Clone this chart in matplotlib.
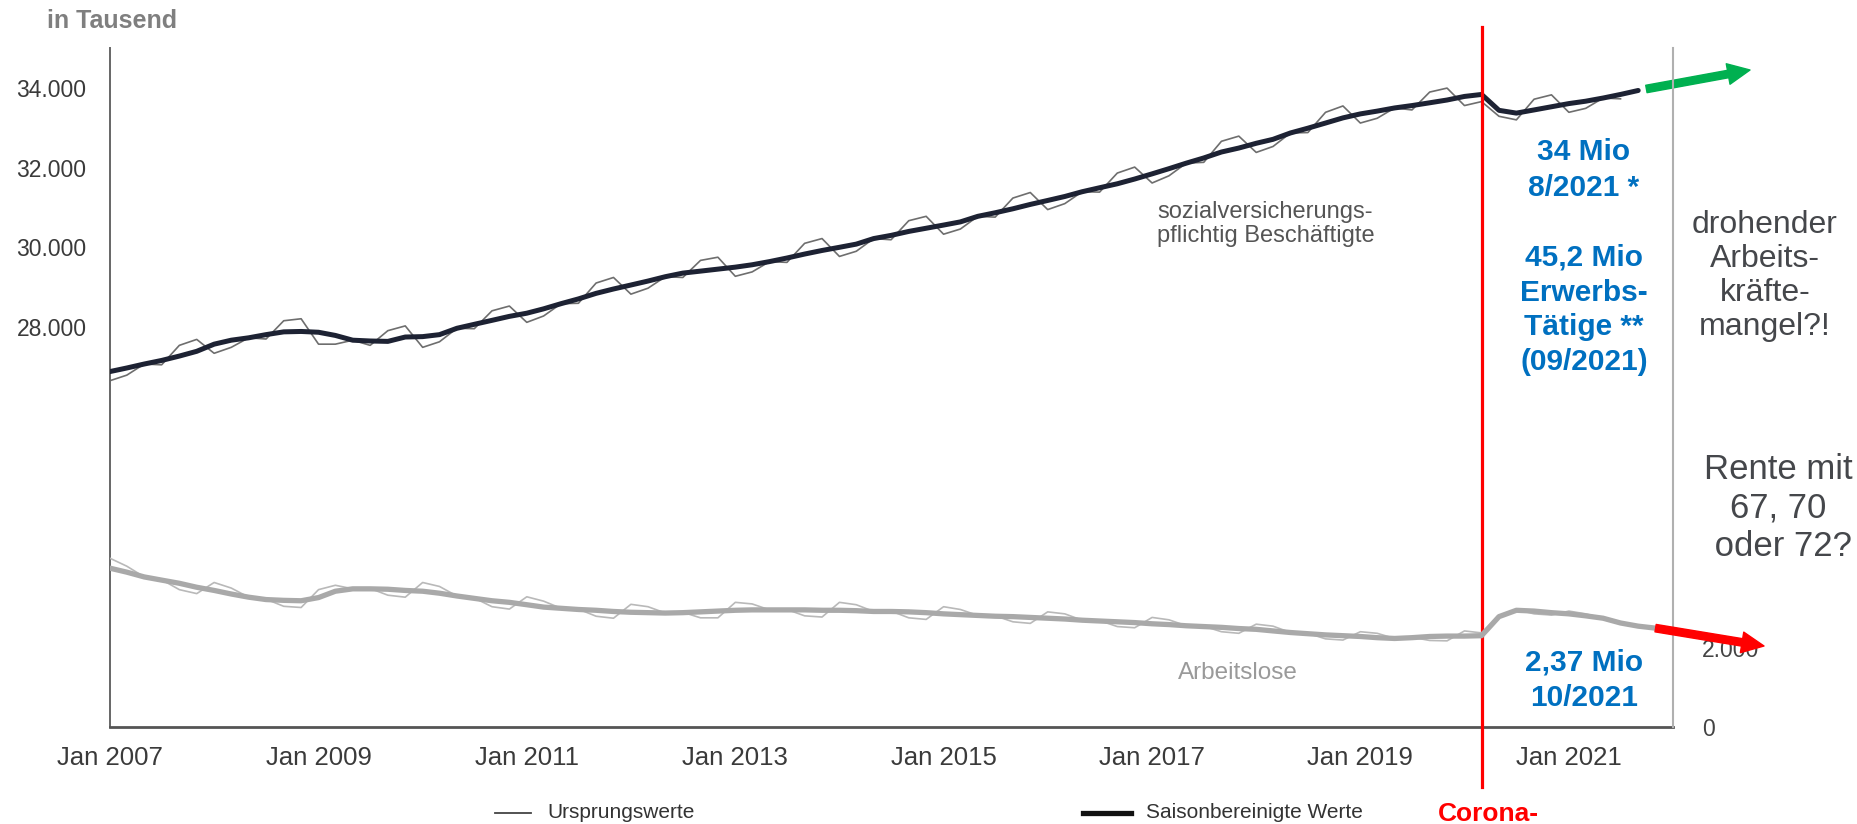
import numpy as np
import pandas as pd
import matplotlib
matplotlib.use('Agg')
import matplotlib.pyplot as plt
from matplotlib.lines import Line2D

plt.rcParams['font.family'] = ['Liberation Sans', 'DejaVu Sans']

# bimonthly readings (Jan, Mar, May, Jul, Sep, Nov), values in thousand
emp_dates = pd.date_range('2007-01-01', '2021-09-01', freq='2MS')
emp_sa = [26870, 26960, 27060, 27150, 27260, 27380,
          27560, 27660, 27720, 27800, 27870, 27880,
          27860, 27780, 27660, 27640, 27630, 27740,
          27750, 27800, 27960, 28060, 28160, 28260,
          28340, 28450, 28580, 28700, 28840, 28950,
          29050, 29150, 29260, 29350, 29400, 29450,
          29500, 29560, 29640, 29730, 29830, 29920,
          30000, 30080, 30220, 30300, 30400, 30480,
          30560, 30640, 30780, 30870, 30970, 31080,
          31180, 31280, 31400, 31500, 31600, 31720,
          31850, 31980, 32120, 32250, 32400, 32500,
          32620, 32720, 32880, 33000, 33130, 33260,
          33360, 33430, 33510, 33570, 33640, 33710,
          33800, 33850, 33450, 33380, 33460, 33540,
          33620, 33680, 33760, 33850, 33950]
emp_orig = [26640, 26780, 27060, 27040, 27530, 27680,
            27330, 27480, 27720, 27690, 28150, 28200,
            27560, 27560, 27660, 27530, 27900, 28020,
            27480, 27620, 27960, 27950, 28400, 28520,
            28110, 28270, 28580, 28590, 29100, 29240,
            28820, 28970, 29260, 29240, 29670, 29750,
            29270, 29380, 29640, 29620, 30100, 30220,
            29770, 29900, 30220, 30190, 30670, 30780,
            30330, 30460, 30780, 30760, 31240, 31380,
            30950, 31100, 31400, 31390, 31870, 32020,
            31620, 31800, 32120, 32140, 32670, 32800,
            32390, 32540, 32880, 32890, 33400, 33560,
            33130, 33250, 33510, 33460, 33910, 34010,
            33570, 33670, 33300, 33210, 33730, 33840,
            33400, 33500, 33760, 33740]

alo_dates = pd.date_range('2007-01-01', '2021-11-01', freq='2MS')
alo_sa = [4000, 3900, 3780, 3700, 3620, 3520,
          3440, 3350, 3270, 3210, 3190, 3180,
          3260, 3420, 3480, 3480, 3470, 3440,
          3420, 3370, 3300, 3240, 3180, 3140,
          3080, 3020, 2990, 2960, 2940, 2910,
          2890, 2880, 2870, 2880, 2900, 2920,
          2940, 2950, 2950, 2950, 2950, 2940,
          2940, 2930, 2910, 2910, 2900, 2880,
          2850, 2830, 2810, 2790, 2780, 2760,
          2740, 2720, 2690, 2670, 2650, 2630,
          2600, 2580, 2550, 2530, 2510, 2480,
          2460, 2420, 2380, 2350, 2320, 2300,
          2280, 2250, 2230, 2250, 2280, 2290,
          2290, 2300, 2780, 2940, 2920, 2880,
          2850, 2800, 2740, 2620, 2540, 2490]
alo_orig = [4250, 4050, 3780, 3710, 3460, 3360,
            3640, 3500, 3270, 3220, 3040, 3010,
            3460, 3570, 3480, 3490, 3320, 3270,
            3640, 3540, 3300, 3250, 3030, 2970,
            3280, 3170, 2990, 2970, 2790, 2740,
            3090, 3030, 2870, 2890, 2750, 2750,
            3140, 3100, 2950, 2960, 2800, 2770,
            3140, 3080, 2910, 2920, 2750, 2710,
            3030, 2960, 2810, 2800, 2650, 2610,
            2900, 2850, 2690, 2680, 2530, 2500,
            2760, 2700, 2550, 2540, 2400, 2360,
            2590, 2540, 2380, 2360, 2220, 2190,
            2400, 2360, 2230, 2260, 2180, 2170,
            2420, 2370, 2800, 2960, 2850, 2820,
            2920, 2850, 2740, 2630, 2520, 2470]

left_ticks = [28000, 30000, 32000, 34000]
left_labels = ['28.000', '30.000', '32.000', '34.000']
right_ticks = [0, 2000]
right_labels = ['0', '2.000']
year_ticks = list(range(2007, 2022, 2))
corona = pd.Timestamp('2020-03-01')

W, H = 1857, 824
def fx(x):
    return x / W
def fy(y):
    return 1 - y / H

fig = plt.figure(figsize=(W / 100, H / 100), dpi=100)
ax = fig.add_axes([fx(110), fy(727), 1563 / W, 679 / H])
ax2 = ax.twinx()

ax.plot(emp_dates[:len(emp_orig)], emp_orig, color='#6e6e6e', lw=1.2, zorder=2)
ax.plot(emp_dates, emp_sa, color='#1d2233', lw=3.6, zorder=3, solid_capstyle='round')
ax2.plot(alo_dates, alo_orig, color='#b9b9b9', lw=1.2, zorder=2)
ax2.plot(alo_dates, alo_sa, color='#a9a9a9', lw=3.8, zorder=3, solid_capstyle='round')

ax.set_xlim(pd.Timestamp('2007-01-01'), pd.Timestamp('2022-01-01'))
ax.set_ylim(17917, 35020)
ax2.set_ylim(0, 17103)

ax.set_xticks([pd.Timestamp(f'{y}-01-01') for y in year_ticks])
ax.set_xticklabels([f'Jan {y}' for y in year_ticks])
ax.set_yticks(left_ticks)
ax.set_yticklabels(left_labels)
ax2.set_yticks(right_ticks)
ax2.set_yticklabels(right_labels)

ax.tick_params(axis='x', length=0, pad=14, labelsize=18.5, labelcolor='#3a3a3a')
ax.tick_params(axis='y', length=0, pad=17, labelsize=16.5, labelcolor='#3a3a3a')
ax2.tick_params(axis='y', length=0, pad=21, labelsize=16.5, labelcolor='#444444')

for s in ['top', 'right']:
    ax.spines[s].set_visible(False)
for s in ['top', 'left', 'bottom']:
    ax2.spines[s].set_visible(False)
ax.spines['left'].set_color('#666666')
ax.spines['left'].set_linewidth(1.4)
ax.spines['bottom'].set_color('#555555')
ax.spines['bottom'].set_linewidth(2)
ax2.spines['right'].set_color('#b0b0b0')
ax2.spines['right'].set_linewidth(1.5)

# corona marker
ax.plot([corona, corona], [-0.088, 1.031], color='#ff0000', lw=2.3,
        transform=ax.get_xaxis_transform(), clip_on=False, zorder=5)

# arrows from the last values
ax.annotate('', xy=(fx(1750), fy(70)), xycoords='figure fraction',
            xytext=(emp_dates[-1], emp_sa[-1]), textcoords='data',
            arrowprops=dict(arrowstyle='simple,head_length=0.8,head_width=0.75,tail_width=0.27',
                            color='#00b050', mutation_scale=20, shrinkA=6, shrinkB=0),
            annotation_clip=False)
ax2.annotate('', xy=(fx(1764), fy(646)), xycoords='figure fraction',
             xytext=(alo_dates[-1], alo_sa[-1]), textcoords='data',
             arrowprops=dict(arrowstyle='simple,head_length=0.8,head_width=0.75,tail_width=0.27',
                             color='#ff0000', mutation_scale=20, shrinkA=0, shrinkB=0),
             annotation_clip=False)

# texts
fig.text(fx(47), fy(21), 'in Tausend', fontsize=18, weight='bold', color='#7f7f7f',
         ha='left', va='center')
fig.text(fx(1157), fy(224), 'sozialversicherungs-\npflichtig Beschäftigte', fontsize=17,
         color='#555555', ha='left', va='center', linespacing=1.13)
fig.text(fx(1178), fy(673), 'Arbeitslose', fontsize=17.5, color='#9a9a9a', ha='left', va='center')

blue = '#0070c0'
fig.text(fx(1584), fy(170), '34 Mio\n8/2021 *', fontsize=21.5, weight='bold', color=blue,
         ha='center', va='center', linespacing=1.36)
fig.text(fx(1584), fy(310), '45,2 Mio\nErwerbs-\nTätige **\n(09/2021)', fontsize=21.5,
         weight='bold', color=blue, ha='center', va='center', linespacing=1.31)
fig.text(fx(1584), fy(680), '2,37 Mio\n10/2021', fontsize=21.5, weight='bold', color=blue,
         ha='center', va='center', linespacing=1.33)

fig.text(fx(1765), fy(276), 'drohender\nArbeits-\nkräfte-\nmangel?!', fontsize=23,
         color='#45474b', ha='center', va='center', linespacing=1.18)
fig.text(fx(1778), fy(508), 'Rente mit\n67, 70\n oder 72?', fontsize=25,
         color='#45474b', ha='center', va='center', linespacing=1.22)

fig.text(fx(1488), fy(821), 'Corona-', fontsize=19, weight='bold', color='#ff0000',
         ha='center', va='baseline')

# legend at the bottom edge
fig.add_artist(Line2D([fx(495), fx(531)], [fy(813), fy(813)], color='#444444', lw=1.3))
fig.text(fx(547), fy(812), 'Ursprungswerte', fontsize=15, color='#333333', ha='left', va='center')
fig.add_artist(Line2D([fx(1083), fx(1131)], [fy(813), fy(813)], color='#111111', lw=3.8))
fig.text(fx(1146), fy(812), 'Saisonbereinigte Werte', fontsize=15, color='#333333',
         ha='left', va='center')

fig.savefig('out.png', dpi=100)
